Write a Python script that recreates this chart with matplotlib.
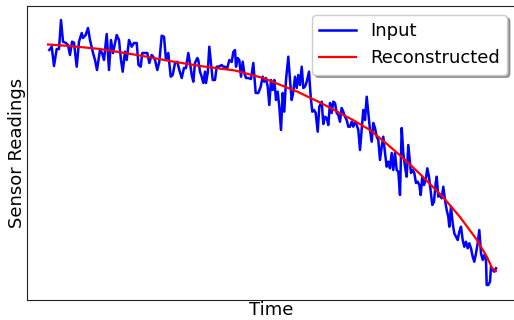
import matplotlib
matplotlib.use("Agg")
import matplotlib.pyplot as plt

# Input (noisy) signal: time vs reading
input_time = [1.3, 3.7, 6, 8.7, 11, 13, 15, 18, 20, 22, 24, 26, 28.7, 31, 33.7, 35, 37.7, 40, 42, 44.7,
              47, 49, 52, 54, 56, 58.7, 61, 63, 65, 68.7, 71, 73, 74.7, 77, 78.7, 81, 83.7, 86, 88.7, 90.5,
              92.7, 94.3, 97, 99.3, 101.3, 103.7, 105.3, 107, 109.3, 111.3, 113.7, 116, 118, 120.3, 122.7, 124.7, 127, 129.3, 131.3, 133.7,
              136, 138, 140.3, 142, 143.7, 145.3, 147, 149.3, 150.3, 152, 153.7, 155.3, 157, 158, 159.7, 161.3, 163, 164.7, 167, 168.7,
              170.3, 172, 173.7, 175.3, 177, 179.3, 181.3, 183.7, 185.3, 187, 188, 189.7, 191.3, 193, 194.7, 196.3, 198, 200.3, 203, 205.3,
              207.7, 210.3, 212.7, 214.7, 216.3, 218, 219.7, 221.3, 223, 224.7, 226.3, 228, 229.7, 231.3, 233, 234.7, 236.3, 238, 240.3, 242,
              243.7, 245.3, 247, 248.7, 250.3, 252, 253.7, 255.3, 257, 258.7, 261, 262.7, 264.3, 266, 267.7, 269.7, 271.3, 273.7, 275.3, 277,
              278.7, 280.3, 282, 283.7, 285.3, 287, 288.7, 290.3, 292, 293.7, 295.3, 297, 298.7, 300.3, 302, 303.7, 305.3, 307, 308.7, 310.3,
              312, 313.7, 315.3, 317, 318.7, 320.3, 322, 323.7, 325.3, 327, 328.7, 330.3, 332, 333.7, 335.3, 337, 338.7, 340.3, 342, 343.7,
              345.3, 347, 348.7, 350.3, 352, 353.7, 355.3, 357, 358.7, 360.3, 363, 364.7, 366.3, 368, 369.7, 371.3, 372.7, 374.3, 376, 377.7,
              379.3, 381, 382.7, 384.3, 386, 387.7, 388.7, 390.3, 392, 393.7, 395.3, 397, 398.7, 400.3, 401.3, 403, 404.7, 406.3, 408, 409.7,
              411.3, 413, 414.7, 416.3, 418, 419.7, 421.3, 423, 424.7, 426.3, 428, 429.7, 431.3, 433, 434.7, 436.3, 438, 438.7, 440.3, 442,
              443, 444.7, 446.3, 448]
input_reading = [248, 251.3, 232, 249, 249, 278, 256.3, 255, 253, 243, 256.3, 255.3, 231.3, 256.3, 265, 260, 263, 270, 258, 246.3,
                 238, 228, 248, 245, 238, 264, 228, 258, 245, 263, 258, 238, 226.3, 246.3, 238, 258, 251.3, 255, 255, 233,
                 231.3, 245, 245, 245, 235, 243, 241.3, 238, 228, 236.3, 262.3, 261.3, 238, 245, 221.3, 223, 235, 236.3, 228, 220,
                 230, 230, 245, 235, 223, 216.3, 235, 240, 238, 226.3, 221.3, 215, 226.3, 215, 225, 251.3, 235, 218, 218, 231.3,
                 231.3, 232, 233, 231.3, 231.3, 230, 238, 236, 246, 248, 231.3, 240, 238, 221.3, 236.3, 225, 220, 220, 219, 235,
                 205, 205, 211.3, 221.3, 216.3, 220, 211.3, 193, 218, 208, 218, 198, 206.3, 191.3, 168, 205, 186.3, 218, 241.3, 218,
                 198, 206.3, 221.3, 210, 223, 213, 231.3, 210, 211.3, 216.3, 226.3, 201.3, 186.3, 188, 185, 166.3, 191.3, 196.3, 174, 181.3,
                 180, 173, 195, 185, 196.3, 195, 185, 183, 176.3, 190, 186.3, 181.3, 178, 171.3, 171.3, 176.3, 171.3, 176.3, 173, 168,
                 148, 168, 188, 178, 201.3, 185, 168, 156.3, 175, 170, 161.3, 158, 138, 151.3, 161.3, 145, 131.3, 136.3, 129.7, 145,
                 128, 145, 128, 126.3, 103, 170, 145, 131.3, 121.3, 153, 125, 128, 125, 115, 116.3, 113, 103, 121.3, 113, 118,
                 129.7, 121.3, 106.3, 93, 96.3, 115, 121.3, 101.3, 103, 99.7, 111.3, 98, 88, 81.3, 71.3, 91.3, 74.7, 64.7, 61.3, 58,
                 66.3, 71.3, 58, 51.3, 56.3, 49.7, 54.7, 49.7, 41.3, 36.3, 44.7, 54.7, 68, 44.7, 38, 43, 38, 13, 13, 16.3,
                 31.3, 28, 26.3, 29.7]

# Reconstructed (smooth) signal
recon_time = [0, 22, 52, 92, 122, 152, 187, 215, 249, 272, 305, 322, 339, 355, 372, 395, 412, 429, 439, 444, 448]
recon_reading = [253.5, 252, 249, 242.5, 237, 232, 227.5, 220, 206.5, 195.5, 178, 168, 154, 140, 124, 101, 81, 58, 41, 30, 27]

fig = plt.figure(figsize=(5.14, 3.2), dpi=100)
ax = fig.add_axes([27 / 514, 20.5 / 320, 489 / 514, 293.5 / 320])

ax.plot(input_time, input_reading, color="blue", linewidth=1.8, label="Input")
ax.plot(recon_time, recon_reading, color="red", linewidth=1.6, label="Reconstructed")

ax.set_xlim(-21, 468)
ax.set_ylim(-1.5, 292)
ax.set_xticks([])
ax.set_yticks([])
for s in ax.spines.values():
    s.set_color("#222222")
ax.set_xlabel("Time", fontsize=13, labelpad=1)
ax.set_ylabel("Sensor Readings", fontsize=13, labelpad=1)

leg = ax.legend(loc="upper right", fontsize=13, shadow=True, fancybox=True, framealpha=1,
                borderaxespad=0.5)

fig.savefig("out.png", dpi=100)
